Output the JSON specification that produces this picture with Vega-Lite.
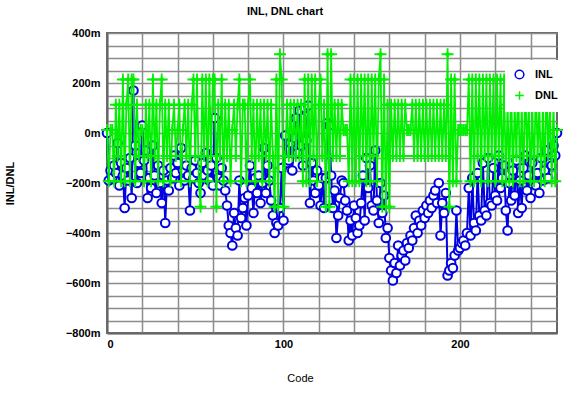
{
"$schema": "https://vega.github.io/schema/vega-lite/v6.json",
"width": 450, "height": 300,
"autosize": "none",
"padding": {"left": 107, "top": 33, "right": 12, "bottom": 61},
"background": "white",
"config": {"view": {"stroke": "#666666", "strokeWidth": 2}, "font": "Liberation Sans"},
"title": {"text": "INL, DNL chart", "font": "Liberation Sans", "fontSize": 11, "fontWeight": "bold", "color": "black", "anchor": "middle", "dx": -47, "offset": 10},
"data": {"values": [
{"code":0,"INL":0,"DNL":0.012},{"code":1,"INL":-0.19,"DNL":-0.193},{"code":2,"INL":-0.15,"DNL":0.012},{"code":3,"INL":-0.18,"DNL":0.012},{"code":4,"INL":-0.13,"DNL":-0.193},{"code":5,"INL":-0.16,"DNL":0.113},{"code":6,"INL":-0.04,"DNL":-0.092},{"code":7,"INL":-0.21,"DNL":0.113},{"code":8,"INL":-0.12,"DNL":-0.193},{"code":9,"INL":-0.17,"DNL":0.214},
{"code":10,"INL":-0.30,"DNL":-0.193},{"code":11,"INL":-0.14,"DNL":0.113},{"code":12,"INL":-0.19,"DNL":0.214},{"code":13,"INL":-0.10,"DNL":-0.193},{"code":14,"INL":-0.26,"DNL":0.214},{"code":15,"INL":0.17,"DNL":0.214},{"code":16,"INL":-0.05,"DNL":-0.193},{"code":17,"INL":-0.20,"DNL":0.113},{"code":18,"INL":-0.12,"DNL":-0.092},{"code":19,"INL":-0.16,"DNL":0.012},
{"code":20,"INL":0.03,"DNL":0.012},{"code":21,"INL":-0.11,"DNL":-0.193},{"code":22,"INL":-0.07,"DNL":0.113},{"code":23,"INL":-0.26,"DNL":-0.092},{"code":24,"INL":-0.18,"DNL":0.113},{"code":25,"INL":-0.22,"DNL":-0.193},{"code":26,"INL":-0.05,"DNL":0.214},{"code":27,"INL":-0.17,"DNL":-0.092},{"code":28,"INL":-0.24,"DNL":0.113},{"code":29,"INL":-0.13,"DNL":-0.193},
{"code":30,"INL":-0.20,"DNL":0.113},{"code":31,"INL":-0.28,"DNL":0.214},{"code":32,"INL":-0.15,"DNL":-0.193},{"code":33,"INL":-0.36,"DNL":0.113},{"code":34,"INL":-0.19,"DNL":-0.092},{"code":35,"INL":-0.23,"DNL":0.113},{"code":36,"INL":-0.14,"DNL":-0.193},{"code":37,"INL":-0.18,"DNL":0.012},{"code":38,"INL":-0.09,"DNL":0.113},{"code":39,"INL":-0.16,"DNL":-0.092},
{"code":40,"INL":-0.12,"DNL":0.012},{"code":41,"INL":-0.21,"DNL":0.113},{"code":42,"INL":-0.06,"DNL":-0.193},{"code":43,"INL":-0.15,"DNL":0.012},{"code":44,"INL":-0.19,"DNL":0.113},{"code":45,"INL":-0.13,"DNL":-0.092},{"code":46,"INL":-0.17,"DNL":0.113},{"code":47,"INL":-0.31,"DNL":-0.193},{"code":48,"INL":-0.14,"DNL":0.113},{"code":49,"INL":-0.18,"DNL":0.214},
{"code":50,"INL":-0.11,"DNL":-0.092},{"code":51,"INL":-0.16,"DNL":0.214},{"code":52,"INL":-0.20,"DNL":-0.193},{"code":53,"INL":-0.24,"DNL":-0.295},{"code":54,"INL":-0.12,"DNL":0.214},{"code":55,"INL":-0.17,"DNL":-0.092},{"code":56,"INL":-0.08,"DNL":0.214},{"code":57,"INL":-0.15,"DNL":-0.193},{"code":58,"INL":-0.19,"DNL":0.214},{"code":59,"INL":-0.13,"DNL":-0.092},
{"code":60,"INL":-0.21,"DNL":0.214},{"code":61,"INL":0.06,"DNL":0.214},{"code":62,"INL":-0.10,"DNL":-0.295},{"code":63,"INL":-0.18,"DNL":0.113},{"code":64,"INL":-0.21,"DNL":-0.092},{"code":65,"INL":-0.14,"DNL":0.214},{"code":66,"INL":-0.19,"DNL":-0.193},{"code":67,"INL":-0.23,"DNL":0.113},{"code":68,"INL":-0.29,"DNL":-0.092},{"code":69,"INL":-0.37,"DNL":0.113},
{"code":70,"INL":-0.40,"DNL":-0.193},{"code":71,"INL":-0.45,"DNL":0.012},{"code":72,"INL":-0.32,"DNL":0.113},{"code":73,"INL":-0.38,"DNL":-0.092},{"code":74,"INL":-0.41,"DNL":0.113},{"code":75,"INL":-0.19,"DNL":0.214},{"code":76,"INL":-0.34,"DNL":-0.193},{"code":77,"INL":-0.30,"DNL":0.113},{"code":78,"INL":-0.26,"DNL":0.113},{"code":79,"INL":-0.37,"DNL":-0.193},
{"code":80,"INL":-0.25,"DNL":0.113},{"code":81,"INL":-0.13,"DNL":0.214},{"code":82,"INL":-0.22,"DNL":-0.092},{"code":83,"INL":-0.32,"DNL":0.113},{"code":84,"INL":-0.18,"DNL":-0.193},{"code":85,"INL":-0.24,"DNL":0.113},{"code":86,"INL":-0.17,"DNL":-0.092},{"code":87,"INL":-0.28,"DNL":0.113},{"code":88,"INL":-0.20,"DNL":-0.193},{"code":89,"INL":-0.06,"DNL":0.113},
{"code":90,"INL":-0.24,"DNL":-0.092},{"code":91,"INL":-0.13,"DNL":0.113},{"code":92,"INL":-0.19,"DNL":-0.193},{"code":93,"INL":-0.27,"DNL":0.113},{"code":94,"INL":-0.33,"DNL":-0.092},{"code":95,"INL":-0.40,"DNL":-0.295},{"code":96,"INL":-0.36,"DNL":0.214},{"code":97,"INL":-0.37,"DNL":-0.295},{"code":98,"INL":-0.30,"DNL":0.315},{"code":99,"INL":-0.14,"DNL":0.214},
{"code":100,"INL":-0.35,"DNL":-0.295},{"code":101,"INL":-0.01,"DNL":-0.092},{"code":102,"INL":-0.12,"DNL":0.113},{"code":103,"INL":-0.11,"DNL":-0.092},{"code":104,"INL":-0.04,"DNL":0.113},{"code":105,"INL":-0.15,"DNL":-0.092},{"code":106,"INL":-0.02,"DNL":0.113},{"code":107,"INL":0.06,"DNL":-0.092},{"code":108,"INL":-0.08,"DNL":0.113},{"code":109,"INL":0.09,"DNL":-0.092},
{"code":110,"INL":-0.05,"DNL":0.113},{"code":111,"INL":-0.13,"DNL":-0.193},{"code":112,"INL":0.10,"DNL":0.214},{"code":113,"INL":-0.03,"DNL":-0.193},{"code":114,"INL":0.11,"DNL":0.214},{"code":115,"INL":-0.28,"DNL":-0.193},{"code":116,"INL":-0.12,"DNL":0.214},{"code":117,"INL":-0.19,"DNL":-0.092},{"code":118,"INL":-0.24,"DNL":0.214},{"code":119,"INL":-0.15,"DNL":-0.193},
{"code":120,"INL":-0.21,"DNL":0.113},{"code":121,"INL":-0.29,"DNL":0.214},{"code":122,"INL":-0.18,"DNL":-0.092},{"code":123,"INL":-0.30,"DNL":0.113},{"code":124,"INL":-0.18,"DNL":-0.295},{"code":125,"INL":0.04,"DNL":0.315},{"code":126,"INL":0.03,"DNL":-0.295},{"code":127,"INL":-0.17,"DNL":0.315},{"code":128,"INL":-0.30,"DNL":-0.092},{"code":129,"INL":-0.23,"DNL":0.113},
{"code":130,"INL":-0.42,"DNL":-0.092},{"code":131,"INL":-0.33,"DNL":0.113},{"code":132,"INL":-0.26,"DNL":-0.092},{"code":133,"INL":-0.19,"DNL":0.113},{"code":134,"INL":-0.20,"DNL":0.012},{"code":135,"INL":-0.27,"DNL":0.012},{"code":136,"INL":-0.31,"DNL":0.012},{"code":137,"INL":-0.43,"DNL":-0.193},{"code":138,"INL":-0.35,"DNL":0.214},{"code":139,"INL":-0.41,"DNL":-0.193},
{"code":140,"INL":-0.29,"DNL":0.214},{"code":141,"INL":-0.34,"DNL":-0.193},{"code":142,"INL":-0.40,"DNL":0.214},{"code":143,"INL":-0.37,"DNL":-0.193},{"code":144,"INL":-0.28,"DNL":0.214},{"code":145,"INL":-0.17,"DNL":-0.092},{"code":146,"INL":-0.35,"DNL":0.214},{"code":147,"INL":-0.10,"DNL":-0.193},{"code":148,"INL":-0.22,"DNL":0.214},{"code":149,"INL":-0.13,"DNL":-0.193},
{"code":150,"INL":-0.29,"DNL":0.214},{"code":151,"INL":-0.31,"DNL":-0.092},{"code":152,"INL":-0.07,"DNL":0.214},{"code":153,"INL":-0.27,"DNL":-0.193},{"code":154,"INL":-0.36,"DNL":0.214},{"code":155,"INL":-0.20,"DNL":0.315},{"code":156,"INL":-0.32,"DNL":-0.295},{"code":157,"INL":-0.25,"DNL":0.214},{"code":158,"INL":-0.42,"DNL":-0.295},{"code":159,"INL":-0.38,"DNL":0.113},
{"code":160,"INL":-0.50,"DNL":-0.295},{"code":161,"INL":-0.55,"DNL":0.113},{"code":162,"INL":-0.59,"DNL":-0.092},{"code":163,"INL":-0.52,"DNL":0.113},{"code":164,"INL":-0.56,"DNL":-0.092},{"code":165,"INL":-0.45,"DNL":0.113},{"code":166,"INL":-0.53,"DNL":-0.092},{"code":167,"INL":-0.49,"DNL":0.113},{"code":168,"INL":-0.47,"DNL":-0.092},{"code":169,"INL":-0.51,"DNL":0.113},
{"code":170,"INL":-0.44,"DNL":0.012},{"code":171,"INL":-0.46,"DNL":0.012},{"code":172,"INL":-0.41,"DNL":0.012},{"code":173,"INL":-0.43,"DNL":0.113},{"code":174,"INL":-0.38,"DNL":-0.092},{"code":175,"INL":-0.33,"DNL":0.113},{"code":176,"INL":-0.40,"DNL":-0.092},{"code":177,"INL":-0.35,"DNL":0.113},{"code":178,"INL":-0.37,"DNL":-0.092},{"code":179,"INL":-0.31,"DNL":0.113},
{"code":180,"INL":-0.34,"DNL":-0.092},{"code":181,"INL":-0.29,"DNL":0.113},{"code":182,"INL":-0.32,"DNL":-0.092},{"code":183,"INL":-0.27,"DNL":0.113},{"code":184,"INL":-0.30,"DNL":-0.092},{"code":185,"INL":-0.25,"DNL":0.113},{"code":186,"INL":-0.23,"DNL":-0.092},{"code":187,"INL":-0.28,"DNL":0.113},{"code":188,"INL":-0.20,"DNL":-0.092},{"code":189,"INL":-0.41,"DNL":0.113},
{"code":190,"INL":-0.28,"DNL":-0.092},{"code":191,"INL":-0.32,"DNL":0.113},{"code":192,"INL":-0.24,"DNL":-0.092},{"code":193,"INL":-0.57,"DNL":0.315},{"code":194,"INL":-0.55,"DNL":-0.295},{"code":195,"INL":-0.52,"DNL":0.214},{"code":196,"INL":-0.54,"DNL":-0.193},{"code":197,"INL":-0.49,"DNL":0.214},{"code":198,"INL":-0.31,"DNL":-0.193},{"code":199,"INL":-0.47,"DNL":0.012},
{"code":200,"INL":-0.46,"DNL":0.012},{"code":201,"INL":-0.44,"DNL":0.012},{"code":202,"INL":-0.43,"DNL":0.012},{"code":203,"INL":-0.45,"DNL":0.012},{"code":204,"INL":-0.40,"DNL":0.012},{"code":205,"INL":-0.22,"DNL":0.214},{"code":206,"INL":-0.41,"DNL":-0.193},{"code":207,"INL":-0.18,"DNL":0.214},{"code":208,"INL":-0.36,"DNL":-0.193},{"code":209,"INL":-0.39,"DNL":0.214},
{"code":210,"INL":-0.16,"DNL":-0.092},{"code":211,"INL":-0.33,"DNL":0.214},{"code":212,"INL":-0.35,"DNL":-0.193},{"code":213,"INL":-0.12,"DNL":0.214},{"code":214,"INL":-0.31,"DNL":-0.092},{"code":215,"INL":-0.33,"DNL":0.214},{"code":216,"INL":-0.10,"DNL":-0.193},{"code":217,"INL":-0.28,"DNL":0.214},{"code":218,"INL":-0.29,"DNL":-0.092},{"code":219,"INL":-0.14,"DNL":0.214},
{"code":220,"INL":-0.25,"DNL":-0.193},{"code":221,"INL":-0.27,"DNL":0.214},{"code":222,"INL":-0.09,"DNL":-0.092},{"code":223,"INL":-0.22,"DNL":0.214},{"code":224,"INL":-0.18,"DNL":-0.193},{"code":225,"INL":-0.13,"DNL":0.214},{"code":226,"INL":-0.31,"DNL":-0.193},{"code":227,"INL":-0.39,"DNL":0.113},{"code":228,"INL":-0.20,"DNL":-0.193},{"code":229,"INL":-0.27,"DNL":0.214},
{"code":230,"INL":-0.15,"DNL":-0.193},{"code":231,"INL":-0.25,"DNL":0.113},{"code":232,"INL":-0.11,"DNL":-0.092},{"code":233,"INL":-0.32,"DNL":0.214},{"code":234,"INL":-0.19,"DNL":-0.193},{"code":235,"INL":-0.30,"DNL":0.113},{"code":236,"INL":-0.14,"DNL":-0.193},{"code":237,"INL":-0.09,"DNL":0.214},{"code":238,"INL":-0.23,"DNL":-0.092},{"code":239,"INL":-0.17,"DNL":0.113},
{"code":240,"INL":-0.26,"DNL":-0.193},{"code":241,"INL":-0.12,"DNL":0.113},{"code":242,"INL":-0.20,"DNL":-0.193},{"code":243,"INL":-0.21,"DNL":0.214},{"code":244,"INL":-0.16,"DNL":-0.092},{"code":245,"INL":-0.24,"DNL":0.113},{"code":246,"INL":-0.10,"DNL":-0.193},{"code":247,"INL":-0.19,"DNL":0.113},{"code":248,"INL":-0.15,"DNL":-0.193},{"code":249,"INL":-0.07,"DNL":0.214},
{"code":250,"INL":-0.18,"DNL":-0.092},{"code":251,"INL":-0.12,"DNL":0.113},{"code":252,"INL":-0.13,"DNL":-0.193},{"code":253,"INL":-0.05,"DNL":0.113},{"code":254,"INL":-0.09,"DNL":-0.193},{"code":255,"INL":0,"DNL":0.012}
]},
"transform": [{"fold": ["INL", "DNL"], "as": ["series", "value"]}],
"encoding": {
  "x": {"field": "code", "type": "quantitative", "scale": {"domain": [0, 255], "nice": false, "zero": false},
    "axis": {"values": [0,20,40,60,80,100,120,140,160,180,200,220,240], "labelExpr": "datum.value % 100 == 0 ? datum.label : ''",
      "grid": true, "gridColor": "#8c8c8c", "gridWidth": 1.5, "gridOpacity": 1, "ticks": false, "domainColor": "#666666", "domainWidth": 2,
      "labelFont": "Liberation Sans", "labelFontSize": 11, "labelFontWeight": "bold", "labelColor": "black", "labelPadding": 5,
      "title": "Code", "titleFont": "Liberation Sans", "titleFontSize": 11, "titleFontWeight": "normal", "titleColor": "black",
      "titleX": 193, "titleY": 45, "titleBaseline": "middle", "titleAlign": "center"}},
  "y": {"field": "value", "type": "quantitative", "scale": {"domain": [-0.8, 0.4], "nice": false, "zero": false},
    "axis": {"values": [-0.8,-0.75,-0.7,-0.65,-0.6,-0.55,-0.5,-0.45,-0.4,-0.35,-0.3,-0.25,-0.2,-0.15,-0.1,-0.05,0,0.05,0.1,0.15,0.2,0.25,0.3,0.35,0.4],
      "labelExpr": "round(datum.value*1000) % 200 == 0 ? format(round(datum.value*1000), 'd') + 'm' : ''",
      "grid": true, "gridColor": "#8c8c8c", "gridWidth": 1.5, "gridOpacity": 1, "ticks": false, "domainColor": "#666666", "domainWidth": 2,
      "labelFont": "Liberation Sans", "labelFontSize": 11, "labelFontWeight": "bold", "labelColor": "black", "labelPadding": 7,
      "title": "INL/DNL", "titleFont": "Liberation Sans", "titleFontSize": 11, "titleFontWeight": "bold", "titleColor": "black",
      "titleAngle": 270, "titleX": -97, "titleY": 150, "titleBaseline": "middle", "titleAlign": "center"}},
  "stroke": {"field": "series", "type": "nominal", "scale": {"domain": ["INL", "DNL"], "range": ["#0000e0", "#00f000"]},
    "legend": {"orient": "none", "legendX": 398, "legendY": 27, "fillColor": "white", "padding": 9, "title": null,
      "labelFont": "Liberation Sans", "labelFontSize": 11, "labelFontWeight": "bold", "labelColor": "black", "labelOffset": 10,
      "symbolSize": 75, "symbolStrokeWidth": 1.5, "rowPadding": 6, "symbolFillColor": "white",
      "encode": {"symbols": {"update": {"fill": {"value": "white"}, "fillOpacity": {"value": 1}}}}}},
  "shape": {"field": "series", "type": "nominal", "scale": {"domain": ["INL", "DNL"], "range": ["circle", "M-1,0H1M0,-1V1"]}}
},
"layer": [
  {"transform": [{"filter": "datum.series == 'INL'"}], "mark": {"type": "line", "strokeWidth": 2}},
  {"transform": [{"filter": "datum.series == 'INL'"}], "mark": {"type": "point", "filled": false, "fill": "white", "fillOpacity": 1, "strokeWidth": 2, "size": 75, "opacity": 1}},
  {"transform": [{"filter": "datum.series == 'DNL'"}], "mark": {"type": "line", "strokeWidth": 1.8}},
  {"transform": [{"filter": "datum.series == 'DNL'"}], "mark": {"type": "point", "filled": false, "fill": "transparent", "fillOpacity": 0, "strokeWidth": 1.8, "size": 144, "opacity": 1}}
]
}
